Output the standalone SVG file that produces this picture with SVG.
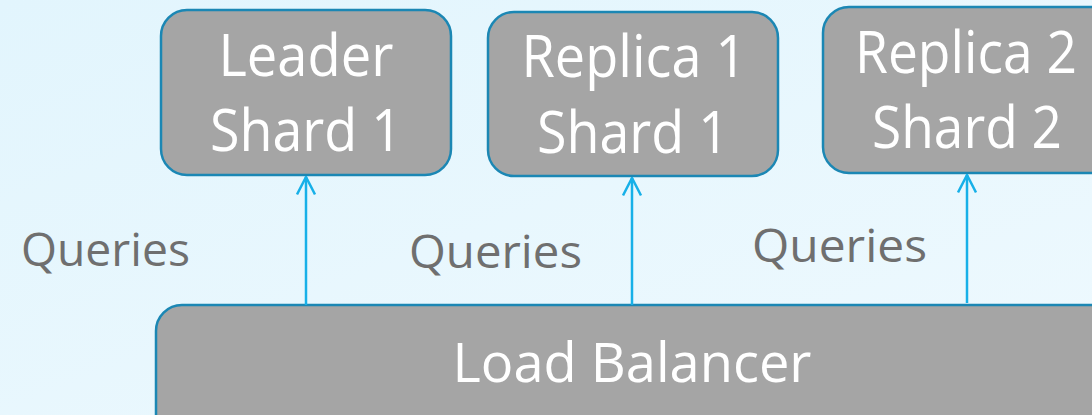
<svg xmlns="http://www.w3.org/2000/svg" width="1092" height="415" viewBox="0 0 1092 415">
  <defs>
    <linearGradient id="bg" x1="0" y1="0" x2="1" y2="1">
      <stop offset="0" stop-color="#e2f5fd"/>
      <stop offset="1" stop-color="#eef9fe"/>
    </linearGradient>
    <!-- open chevron head; tip sits on the line end -->
    <marker id="open-arrow" viewBox="0 0 20 20" refX="18.5" refY="10" markerWidth="20" markerHeight="20" markerUnits="userSpaceOnUse" orient="auto">
      <path d="M1,1 L18.5,10 L1,19" fill="none" stroke="#17b0e8" stroke-width="2.5"/>
    </marker>
    <style>
      .box { fill: #a5a5a5; stroke: #1b87b4; stroke-width: 2.5; }
      .node-text { font-family: "Open Sans", "Liberation Sans", sans-serif; font-size: 59px; fill: #ffffff; text-anchor: middle; }
      .lb-text { font-family: "Open Sans", "Liberation Sans", sans-serif; font-size: 55px; fill: #ffffff; text-anchor: middle; }
      .label { font-family: "Open Sans", "Liberation Sans", sans-serif; font-size: 46px; fill: #6f6f6f; }
      .conn { stroke: #17b0e8; stroke-width: 2.5; fill: none; }
    </style>
  </defs>

  <rect x="0" y="0" width="1092" height="415" fill="url(#bg)"/>

  <g id="leader-shard1">
    <rect class="box" x="161" y="10" width="290" height="165" rx="26"/>
    <text class="node-text" x="306" y="76" textLength="175" lengthAdjust="spacingAndGlyphs">Leader</text>
    <text class="node-text" x="306" y="151" textLength="192" lengthAdjust="spacingAndGlyphs">Shard 1</text>
  </g>

  <g id="replica1-shard1">
    <rect class="box" x="488" y="12" width="290" height="164" rx="26"/>
    <text class="node-text" x="634" y="77" textLength="225" lengthAdjust="spacingAndGlyphs">Replica 1</text>
    <text class="node-text" x="633" y="153" textLength="192" lengthAdjust="spacingAndGlyphs">Shard 1</text>
  </g>

  <g id="replica2-shard2">
    <rect class="box" x="823" y="7" width="300" height="166" rx="26"/>
    <text class="node-text" x="966" y="73" textLength="222" lengthAdjust="spacingAndGlyphs">Replica 2</text>
    <text class="node-text" x="967" y="148" textLength="190" lengthAdjust="spacingAndGlyphs">Shard 2</text>
  </g>

  <g id="load-balancer">
    <rect class="box" x="156" y="305" width="980" height="150" rx="26"/>
    <text class="lb-text" x="632" y="382" textLength="359" lengthAdjust="spacingAndGlyphs">Load Balancer</text>
  </g>

  <g id="connectors">
    <line class="conn" x1="306" y1="305" x2="306" y2="177" marker-end="url(#open-arrow)"/>
    <line class="conn" x1="632" y1="305" x2="632" y2="178" marker-end="url(#open-arrow)"/>
    <line class="conn" x1="967" y1="303" x2="967" y2="175" marker-end="url(#open-arrow)"/>
  </g>

  <g id="labels">
    <text class="label" x="21" y="266" textLength="169" lengthAdjust="spacingAndGlyphs">Queries</text>
    <text class="label" x="409" y="268" textLength="173" lengthAdjust="spacingAndGlyphs">Queries</text>
    <text class="label" x="752" y="262" textLength="175" lengthAdjust="spacingAndGlyphs">Queries</text>
  </g>
</svg>
